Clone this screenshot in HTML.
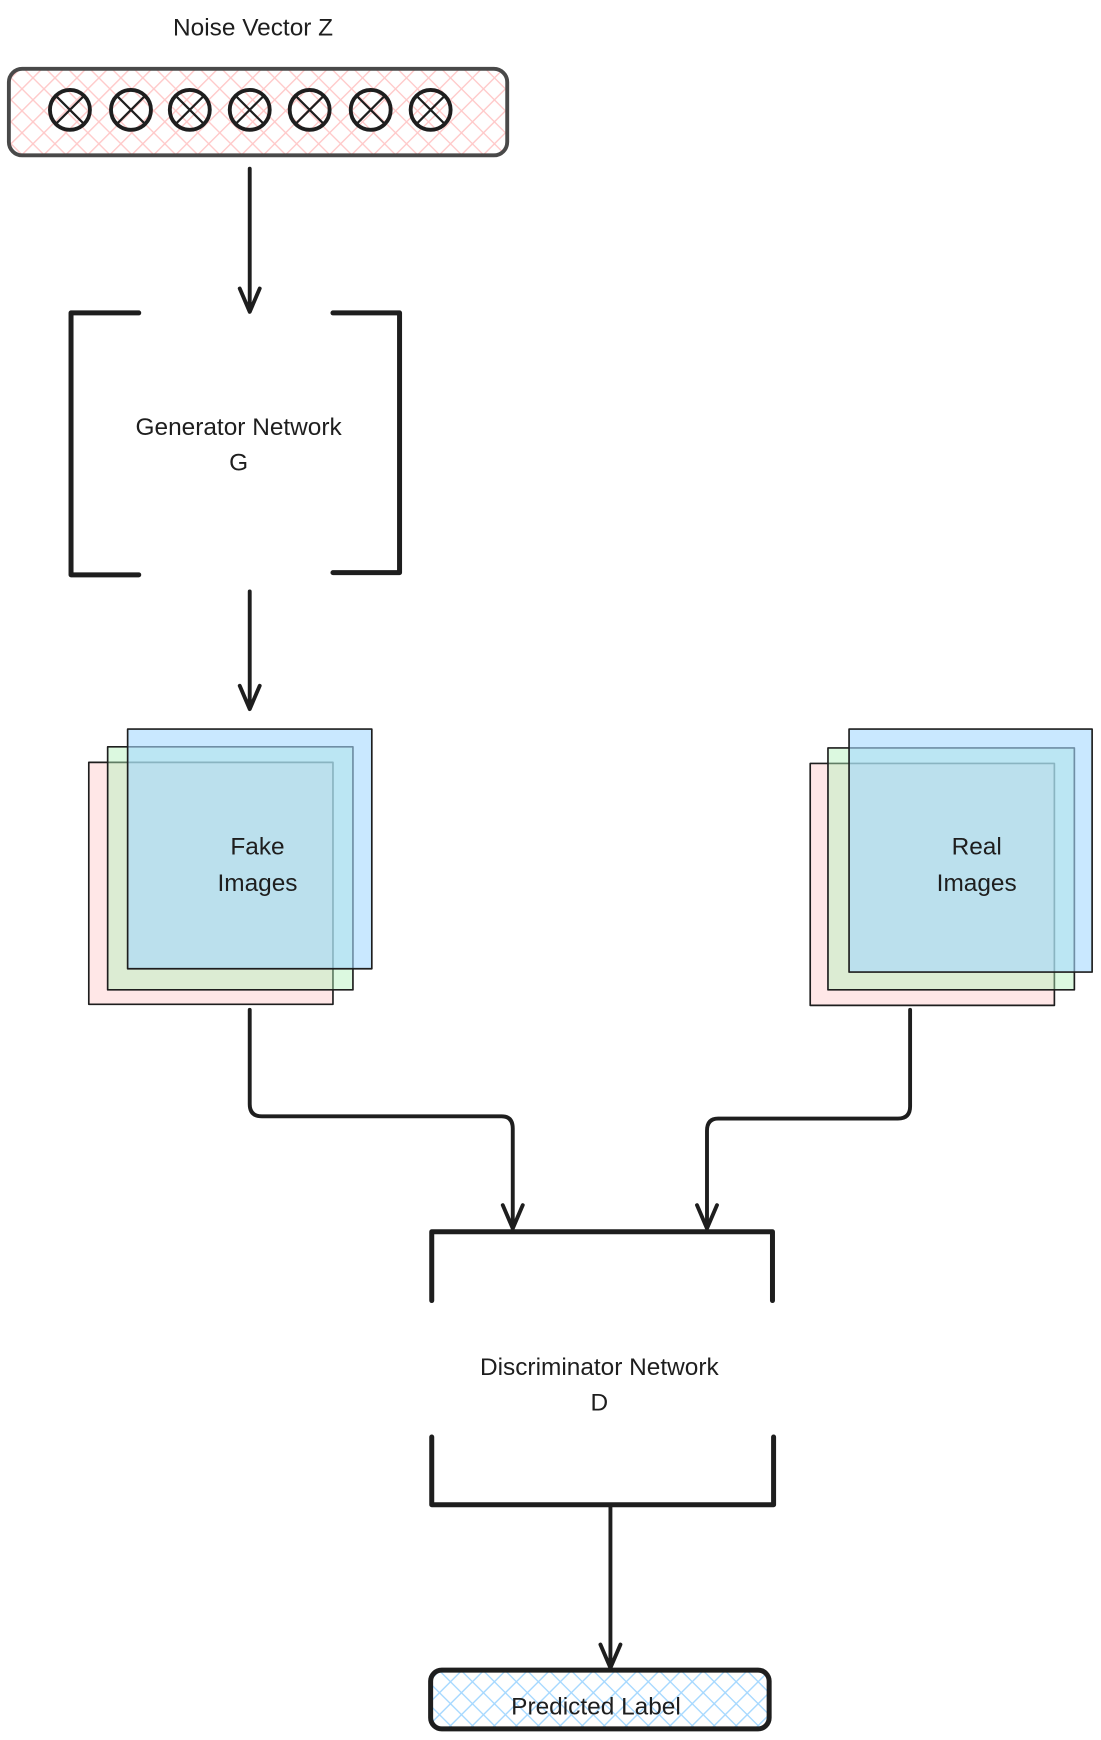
<!DOCTYPE html>
<html><head><meta charset="utf-8"><style>
html,body{margin:0;padding:0;background:#fff;}
svg{display:block;}
text{font-family:"Liberation Sans",sans-serif;font-size:22px;fill:#1e1e1e;text-anchor:middle;}
</style></head><body>
<svg width="1101" height="1740" viewBox="0 0 992 1568" preserveAspectRatio="none" xmlns="http://www.w3.org/2000/svg">
<defs>
<pattern id="pk" width="14" height="14" patternUnits="userSpaceOnUse" patternTransform="rotate(45)">
<rect width="14" height="14" fill="#fff"/><path d="M0 0V14M0 0H14" stroke="#ffc9c9" stroke-width="2.5"/></pattern>
<pattern id="bl" width="14" height="14" patternUnits="userSpaceOnUse" patternTransform="rotate(45)">
<rect width="14" height="14" fill="#fff"/><path d="M0 0V14M0 0H14" stroke="#a5d8ff" stroke-width="2.5"/></pattern>
</defs>
<g stroke="#1e1e1e" fill="none" stroke-linecap="round" stroke-linejoin="round">
<rect x="8" y="62" width="449" height="78" rx="12" fill="url(#pk)" stroke="#494949" stroke-width="3.5"/>
<g stroke-width="3.5">
<circle cx="63" cy="99" r="18"/><circle cx="118" cy="99" r="18"/><circle cx="171" cy="99" r="18"/><circle cx="225" cy="99" r="18"/><circle cx="279" cy="99" r="18"/><circle cx="334" cy="99" r="18"/><circle cx="388" cy="99" r="18"/>
</g>
<g stroke-width="2">
<path d="M51 87L75 111M75 87L51 111M106 87L130 111M130 87L106 111M159 87L183 111M183 87L159 111M213 87L237 111M237 87L213 111M267 87L291 111M291 87L267 111M322 87L346 111M346 87L322 111M376 87L400 111M400 87L376 111"/>
</g>
<g stroke-width="3.5">
<path d="M225 152V280M216 260L225 281L234 260"/>
<path d="M225 533V638M216 618L225 639L234 618"/>
<path d="M225 910V995Q225 1006 236 1006H452Q462 1006 462 1017V1106M453 1086L462 1107L471 1086"/>
<path d="M820 910V997Q820 1008 809 1008H647Q637 1008 637 1019V1106M628 1086L637 1107L646 1086"/>
<path d="M550 1357V1502M541 1482L550 1503L559 1482"/>
</g>
<g stroke-width="4.5">
<path d="M125 282H64V518H125"/>
<path d="M300 282H360V516H300"/>
</g>
<g stroke-width="1.5">
<rect x="80" y="687" width="220" height="218" fill="#ffc9c9" fill-opacity="0.45"/>
<rect x="97" y="673" width="221" height="219" fill="#b2f2bb" fill-opacity="0.45"/>
<rect x="115" y="657" width="220" height="216" fill="#a5d8ff" fill-opacity="0.6"/>
<rect x="730" y="688" width="220" height="218" fill="#ffc9c9" fill-opacity="0.45"/>
<rect x="746" y="674" width="222" height="218" fill="#b2f2bb" fill-opacity="0.45"/>
<rect x="765" y="657" width="219" height="219" fill="#a5d8ff" fill-opacity="0.6"/>
</g>
<g stroke-width="4.5">
<path d="M389 1172V1110H696V1172"/>
<path d="M389 1295V1356H697V1295"/>
</g>
<rect x="388" y="1505" width="305" height="53" rx="10" fill="url(#bl)" stroke-width="4.5"/>
</g>
<text x="228" y="32">Noise Vector Z</text>
<text x="215" y="392">Generator Network</text>
<text x="215" y="424">G</text>
<text x="232" y="770">Fake</text>
<text x="232" y="803">Images</text>
<text x="880" y="770">Real</text>
<text x="880" y="803">Images</text>
<text x="540" y="1239">Discriminator Network</text>
<text x="540" y="1271">D</text>
<text x="537" y="1545">Predicted Label</text>
</svg>
</body></html>
